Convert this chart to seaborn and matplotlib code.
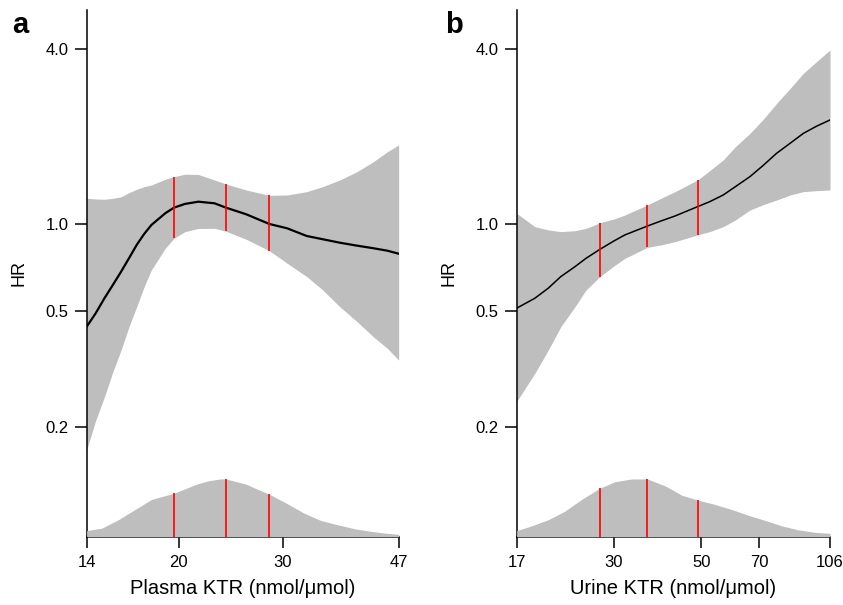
import numpy as np
import pandas as pd
import matplotlib.pyplot as plt
from matplotlib.ticker import NullLocator
import seaborn as sns

# panel a: plasma KTR, hazard ratio spline with 95% CI
plasma_x = [14, 14.5, 15, 15.5, 16, 16.5, 17, 17.5, 18, 19, 19.65, 20.5, 21.6, 23, 24.04,
            26, 28.45, 30.5, 32.9, 35, 37.4, 40, 42.6, 45, 47]
plasma_hr = [0.443, 0.493, 0.555, 0.617, 0.685, 0.762, 0.847, 0.924, 0.992, 1.089, 1.138, 1.172,
             1.193, 1.178, 1.138, 1.08, 1.0, 0.966, 0.909, 0.886, 0.862, 0.842, 0.825, 0.809, 0.79]
plasma_lo = [0.167, 0.211, 0.254, 0.31, 0.368, 0.443, 0.519, 0.608, 0.695, 0.825, 0.893, 0.941,
             0.965, 0.966, 0.944, 0.886, 0.809, 0.732, 0.659, 0.593, 0.519, 0.461, 0.409, 0.373, 0.34]
plasma_hi = [1.226, 1.219, 1.216, 1.226, 1.24, 1.282, 1.316, 1.344, 1.362, 1.425, 1.455, 1.483,
             1.48, 1.417, 1.373, 1.309, 1.255, 1.258, 1.292, 1.344, 1.417, 1.514, 1.638, 1.773, 1.87]
plasma_quart = [19.65, 24.04, 28.45]
plasma_dens_x = [14, 14.84, 15.83, 16.89, 18.02, 19.65, 21.47, 22.5, 23.54, 24.04, 25.96, 27,
                 28.45, 30.3, 32.5, 34.7, 37.1, 39.7, 42.5, 44.9, 47]
plasma_dens = [0.106, 0.147, 0.294, 0.471, 0.647, 0.753, 0.912, 0.97, 1.0, 1.0, 0.912, 0.835,
               0.735, 0.588, 0.412, 0.282, 0.206, 0.135, 0.088, 0.059, 0.041]
plasma_ticks = [14, 20, 30, 47]

# panel b: urine KTR
urine_x = [17, 18.9, 20.44, 22, 23.9, 25.5, 27.65, 30, 32.0, 36.5, 39.5, 42.86, 48.9, 52.5,
           56.8, 61, 66.4, 71.5, 77.6, 84, 90.7, 98, 106]
urine_hr = [0.513, 0.555, 0.601, 0.659, 0.713, 0.762, 0.818, 0.874, 0.917, 0.984, 1.024, 1.065,
            1.147, 1.193, 1.258, 1.344, 1.455, 1.584, 1.751, 1.896, 2.05, 2.17, 2.28]
urine_lo = [0.245, 0.306, 0.368, 0.443, 0.519, 0.593, 0.659, 0.717, 0.762, 0.831, 0.847, 0.869,
            0.917, 0.941, 0.979, 1.032, 1.117, 1.163, 1.209, 1.258, 1.292, 1.302, 1.309]
urine_hi = [1.088, 0.979, 0.954, 0.941, 0.948, 0.966, 1.01, 1.04, 1.074, 1.163, 1.226, 1.292,
            1.417, 1.526, 1.661, 1.846, 2.05, 2.28, 2.6, 2.93, 3.3, 3.62, 3.97]
urine_quart = [27.65, 36.5, 48.9]
urine_dens_x = [17, 18.55, 20.44, 22.5, 24.85, 27.65, 30.2, 33.3, 34.9, 36.5, 40.4, 42.5, 44.6,
                48.9, 54.1, 59.7, 65.8, 72.5, 79.9, 88.1, 97.0, 106]
urine_dens = [0.106, 0.188, 0.294, 0.441, 0.647, 0.841, 0.953, 1.0, 1.0, 1.0, 0.882, 0.8, 0.718,
              0.635, 0.559, 0.471, 0.371, 0.282, 0.188, 0.118, 0.076, 0.059]
urine_ticks = [17, 30, 50, 70, 106]

hr_ticks = [0.2, 0.5, 1.0, 4.0]

sns.set_style("ticks")
plt.rcParams['font.family'] = ['Liberation Sans', 'DejaVu Sans']
plt.rcParams['text.color'] = 'black'
plt.rcParams['axes.labelcolor'] = 'black'
plt.rcParams['xtick.color'] = 'black'
plt.rcParams['ytick.color'] = 'black'

GREY = '#bebebe'

fig = plt.figure(figsize=(8.43, 6.05), dpi=100)
ax_a = fig.add_axes([0.1028, 0.1129, 0.3701, 0.8706])
ax_b = fig.add_axes([0.6129, 0.1129, 0.3717, 0.8706])


def spline_panel(ax, x, hr, lo, hi, quart, dx, dens, xticks, xlabel, lw):
    df = pd.DataFrame({'x': x, 'hr': hr, 'lo': lo, 'hi': hi})
    ax.set_xscale('log')
    ax.set_yscale('log')
    ax.fill_between(df['x'], df['lo'], df['hi'], color=GREY, lw=0)
    sns.lineplot(data=df, x='x', y='hr', ax=ax, color='black', lw=lw)
    q = df[df['x'].isin(quart)]
    ax.vlines(q['x'], q['lo'], q['hi'], color='red', lw=1.2)

    ax.set_xlim(xticks[0], xticks[-1])
    ax.set_ylim(0.0839, 5.45)
    ax.set_xticks(xticks, [str(t) for t in xticks])
    ax.set_yticks(hr_ticks, ['%.1f' % t for t in hr_ticks])
    ax.xaxis.set_minor_locator(NullLocator())
    ax.yaxis.set_minor_locator(NullLocator())
    ax.tick_params(axis='y', length=9, width=1.1, labelsize=12, pad=4)
    ax.tick_params(axis='x', length=8, width=1.1, labelsize=12, pad=5)
    ax.set_xlabel(xlabel, fontsize=14.5, labelpad=7)
    ax.set_ylabel('HR', fontsize=13, labelpad=13)
    sns.despine(ax=ax)
    for s in ['left', 'bottom']:
        ax.spines[s].set_linewidth(1.1)
        ax.spines[s].set_color('black')

    # covariate distribution along the bottom
    dax = ax.twinx()
    dd = pd.DataFrame({'x': dx, 'd': dens})
    dax.fill_between(dd['x'], 0, dd['d'], color=GREY, lw=0)
    dq = dd[dd['x'].isin(quart)]
    dax.vlines(dq['x'], 0, dq['d'], color='red', lw=1.2)
    dax.set_ylim(0, 1 / 0.1096)
    dax.set_axis_off()


spline_panel(ax_a, plasma_x, plasma_hr, plasma_lo, plasma_hi, plasma_quart,
             plasma_dens_x, plasma_dens, plasma_ticks, 'Plasma KTR (nmol/μmol)', 1.6)
spline_panel(ax_b, urine_x, urine_hr, urine_lo, urine_hi, urine_quart,
             urine_dens_x, urine_dens, urine_ticks, 'Urine KTR (nmol/μmol)', 1.1)

fig.text(0.014, 1 - 33 / 605, 'a', fontsize=21, fontweight='bold', va='baseline')
fig.text(0.528, 1 - 33 / 605, 'b', fontsize=21, fontweight='bold', va='baseline')

fig.savefig('out.png', dpi=100)
